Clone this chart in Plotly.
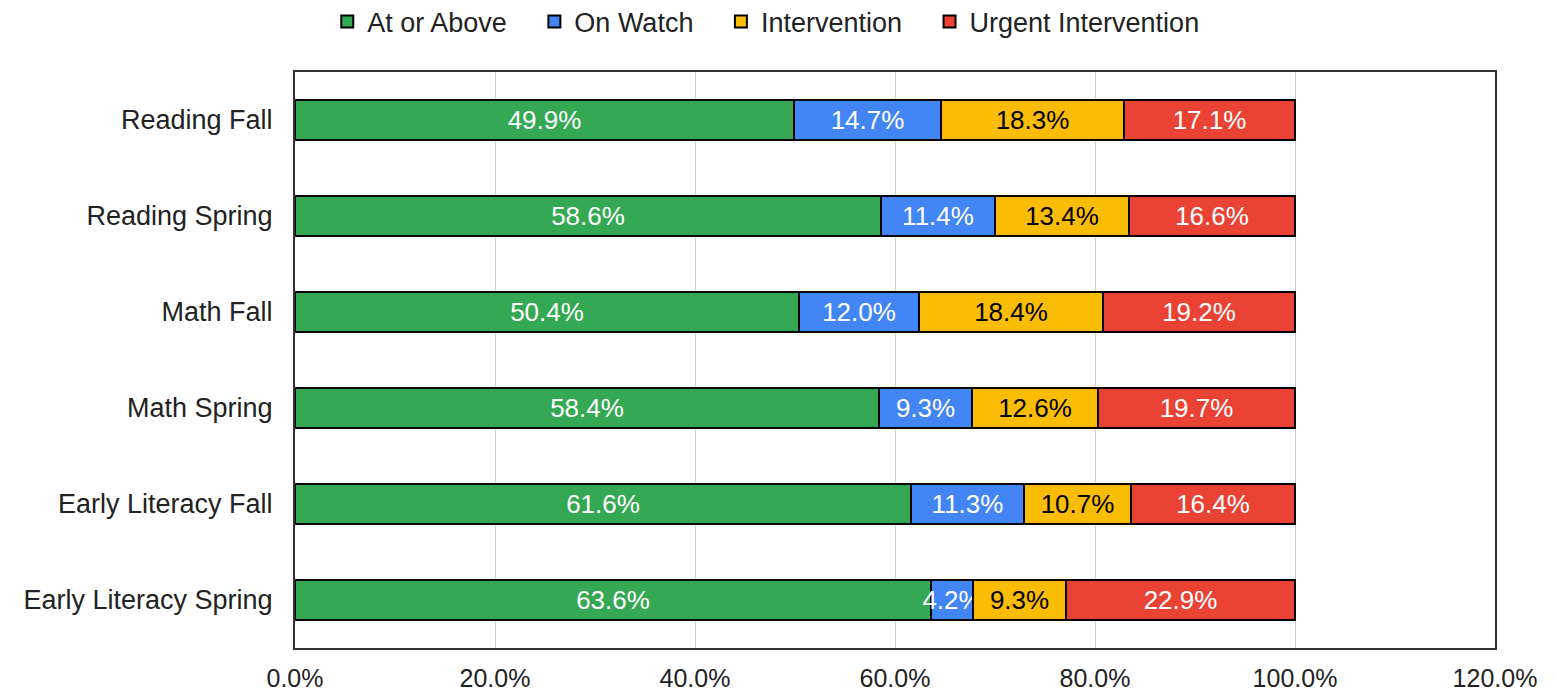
import plotly.graph_objects as go

categories = ["Reading Fall", "Reading Spring", "Math Fall", "Math Spring",
              "Early Literacy Fall", "Early Literacy Spring"]

at_or_above = [49.9, 58.6, 50.4, 58.4, 61.6, 63.6]
on_watch = [14.7, 11.4, 12.0, 9.3, 11.3, 4.2]
intervention = [18.3, 13.4, 18.4, 12.6, 10.7, 9.3]
urgent = [17.1, 16.6, 19.2, 19.7, 16.4, 22.9]

series = [
    ("At or Above", at_or_above, "#34a853", "white"),
    ("On Watch", on_watch, "#4285f4", "white"),
    ("Intervention", intervention, "#fbbc04", "black"),
    ("Urgent Intervention", urgent, "#ea4335", "white"),
]

font = "Liberation Sans, Arial, sans-serif"
pad = "\u00a0" * 3  # widen gaps between legend entries

fig = go.Figure()
for i, (name, vals, color, tcolor) in enumerate(series):
    fig.add_trace(go.Bar(
        name=name + (pad if i < len(series) - 1 else ""),
        y=categories,
        x=[v / 100 for v in vals],
        orientation="h",
        marker=dict(color=color, line=dict(color="black", width=2)),
        text=[f"{v:.1f}%" for v in vals],
        textposition="inside",
        insidetextanchor="middle",
        constraintext="none",
        textfont=dict(color=tcolor, size=26, family=font),
        width=0.41,
    ))

# page has an 8px body margin, margins are shifted to compensate
fig.update_layout(
    barmode="stack",
    width=1556,
    height=693,
    margin=dict(l=287, r=69, t=64, b=53, autoexpand=False),
    paper_bgcolor="white",
    plot_bgcolor="white",
    font=dict(family=font, size=26, color="#222"),
    legend=dict(
        orientation="h",
        xref="container", x=0.487, xanchor="center",
        y=1.087, yanchor="middle",
        font=dict(size=27, color="#222"),
        traceorder="normal",
        itemwidth=30,
        bgcolor="rgba(0,0,0,0)",
    ),
)

fig.update_xaxes(
    range=[0, 1.2],
    dtick=0.2,
    tickformat=".1%",
    showgrid=True,
    gridcolor="#cccccc",
    gridwidth=1,
    showline=True,
    mirror=True,
    linecolor="#333333",
    linewidth=2,
    zeroline=False,
    automargin=False,
    ticklabelstandoff=7,
    tickfont=dict(size=25, color="#222"),
)
fig.update_yaxes(
    categoryorder="array",
    categoryarray=categories,
    autorange="reversed",
    showline=True,
    mirror=True,
    linecolor="#333333",
    linewidth=2,
    ticks="",
    automargin=False,
    ticklabelstandoff=15,
    tickfont=dict(size=27, color="#222"),
)

fig.write_html("out.html")
